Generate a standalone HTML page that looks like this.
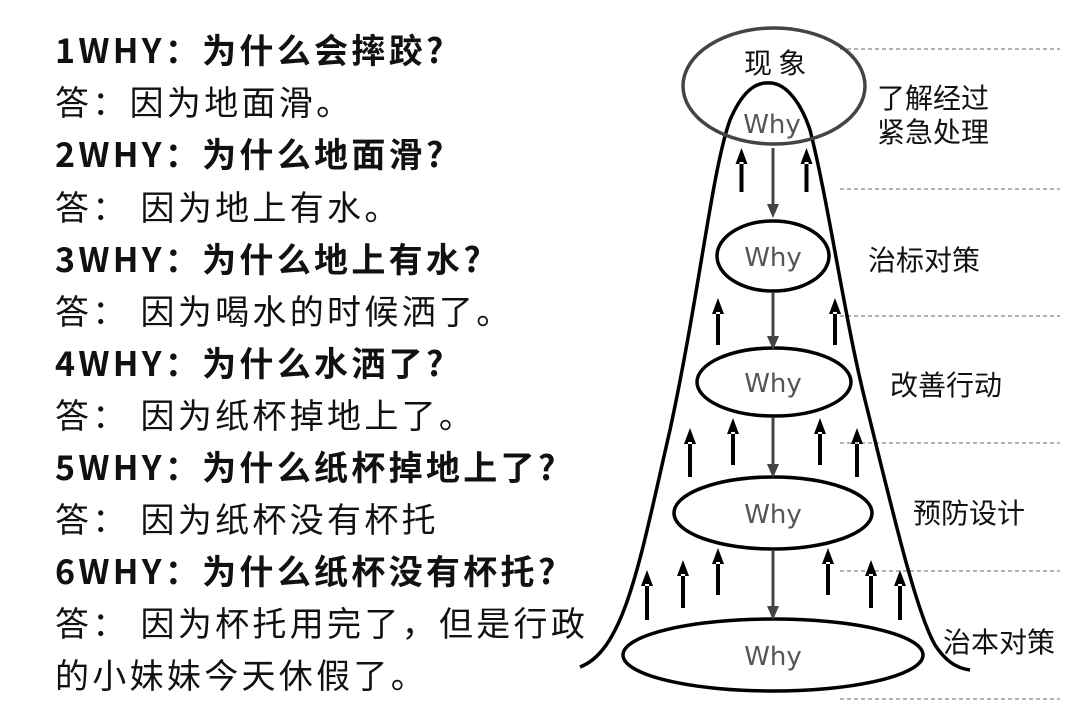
<!DOCTYPE html>
<html><head><meta charset="utf-8"><style>
body{margin:0;width:1080px;height:724px;background:#fff;overflow:hidden;position:relative;font-family:"Noto Sans CJK SC","Liberation Sans",sans-serif;}
.t{position:absolute;left:55px;font-size:34px;letter-spacing:3.3px;color:#111;white-space:pre;line-height:40px;}
.b{font-weight:bold;}
</style></head><body>
<div class="t b" style="top:29px">1WHY：为什么会摔跤?</div>
<div class="t" style="top:81px">答：因为地面滑。</div>
<div class="t b" style="top:133px">2WHY：为什么地面滑?</div>
<div class="t" style="top:186px">答： 因为地上有水。</div>
<div class="t b" style="top:238px">3WHY：为什么地上有水?</div>
<div class="t" style="top:290px">答： 因为喝水的时候洒了。</div>
<div class="t b" style="top:342px">4WHY：为什么水洒了?</div>
<div class="t" style="top:394px">答： 因为纸杯掉地上了。</div>
<div class="t b" style="top:446px">5WHY：为什么纸杯掉地上了?</div>
<div class="t" style="top:498px">答： 因为纸杯没有杯托</div>
<div class="t b" style="top:550px">6WHY：为什么纸杯没有杯托?</div>
<div class="t" style="top:602px">答： 因为杯托用完了，但是行政</div>
<div class="t" style="top:654px">的小妹妹今天休假了。</div>
<svg width="1080" height="724" style="position:absolute;left:0;top:0">
<g stroke="#666" stroke-width="1" stroke-dasharray="4,3">
<line x1="840" y1="49" x2="1060" y2="49"/><line x1="840" y1="189" x2="1060" y2="189"/><line x1="840" y1="316" x2="1060" y2="316"/><line x1="840" y1="443" x2="1060" y2="443"/><line x1="840" y1="571" x2="1060" y2="571"/><line x1="840" y1="699" x2="1060" y2="699"/>
</g>
<path d="M580,667 C625,650 640,560 670,430 C700,290 712,170 730,120 C745,85 760,82 771,83 C785,84 800,100 810,130 C828,200 845,320 865,400 C890,500 915,610 935,645 C945,660 955,668 970,670" fill="none" stroke="#000" stroke-width="3.5"/>
<ellipse cx="774" cy="86" rx="91" ry="58" fill="none" stroke="#444" stroke-width="3.5"/>
<g fill="#fff" stroke="#000" stroke-width="3.5">
<ellipse cx="773" cy="256" rx="56" ry="35"/>
<ellipse cx="774" cy="382" rx="77" ry="34"/>
<ellipse cx="773" cy="513" rx="99" ry="36"/>
<ellipse cx="773" cy="655" rx="150" ry="36"/>
</g>
<g fill="#444">
<path d="M771.5,148h3v56h-3z M773,218l-6,-14h12z"/>
<path d="M771.5,292h3v44h-3z M773,350l-6,-14h12z"/>
<path d="M771.5,418h3v46h-3z M773,478l-6,-14h12z"/>
<path d="M771.5,550h3v56h-3z M773,620l-6,-14h12z"/>
</g>
<g fill="#000">
<path d="M739.5,162h4v30h-4z M741.5,148l-6,16h12z"/>
<path d="M804.5,162h4v30h-4z M806.5,148l-6,16h12z"/>
<path d="M716,312h4v33h-4z M718,298l-6,16h12z"/>
<path d="M833,312h4v33h-4z M835,298l-6,16h12z"/>
<path d="M688,442h4v35h-4z M690,428l-6,16h12z"/>
<path d="M731,432h4v33h-4z M733,418l-6,16h12z"/>
<path d="M818,432h4v33h-4z M820,418l-6,16h12z"/>
<path d="M855,442h4v35h-4z M857,428l-6,16h12z"/>
<path d="M645,584h4v36h-4z M647,570l-6,16h12z"/>
<path d="M681,574h4v34h-4z M683,560l-6,16h12z"/>
<path d="M716,562h4v33h-4z M718,548l-6,16h12z"/>
<path d="M826,562h4v33h-4z M828,548l-6,16h12z"/>
<path d="M869,574h4v34h-4z M871,560l-6,16h12z"/>
<path d="M898,584h4v36h-4z M900,570l-6,16h12z"/>
</g>
<g font-family="Noto Sans CJK SC, sans-serif" fill="#111" font-size="28">
<text x="744" y="73">现 象</text>
<text x="877" y="108">了解经过</text>
<text x="877" y="142">紧急处理</text>
<text x="868" y="270">治标对策</text>
<text x="890" y="395">改善行动</text>
<text x="913" y="523">预防设计</text>
<text x="943" y="652">治本对策</text>
</g>
<g font-family="DejaVu Sans, Liberation Sans, sans-serif" fill="#555" font-size="26" text-anchor="middle">
<text x="772" y="133">Why</text>
<text x="773" y="266">Why</text>
<text x="773" y="392">Why</text>
<text x="773" y="523">Why</text>
<text x="773" y="665">Why</text>
</g>
</svg>
</body></html>
